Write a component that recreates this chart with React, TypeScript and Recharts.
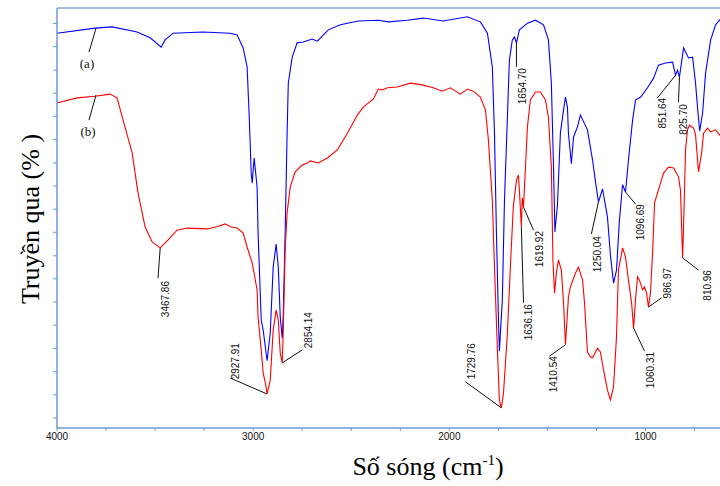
import {
  ComposedChart,
  Line,
  Scatter,
  XAxis,
  YAxis,
  ReferenceLine,
} from 'recharts';

// wavenumbers (cm-1) and transmittance
const waveA = [
  4000, 3806, 3719, 3592, 3525, 3469, 3449, 3408, 3255, 3117, 3082, 3051, 3031, 3020, 3010, 3005,
  2995, 2980, 2975, 2959, 2949, 2929, 2913, 2898, 2883, 2872, 2862, 2852, 2847, 2837, 2827, 2821,
  2801, 2776, 2745, 2699, 2673, 2617, 2556, 2464, 2362, 2311, 2214, 2133, 2031, 1908, 1842, 1806,
  1781, 1770, 1760, 1750, 1745, 1730, 1719, 1704, 1694, 1679, 1668, 1658, 1643, 1602, 1561, 1520,
  1495, 1480, 1469, 1462, 1449, 1434, 1418, 1408, 1398, 1393, 1378, 1367, 1347, 1332, 1296, 1270,
  1255, 1240, 1219, 1194, 1179, 1163, 1148, 1133, 1117, 1102, 1087, 1066, 1051, 1025, 990, 959,
  934, 898, 862, 847, 837, 827, 806, 781, 760, 745, 735, 724, 709, 694, 668, 643, 617, 600,
];
const transA = [
  94.0, 95.2, 95.5, 94.3, 92.9, 90.7, 92.4, 94.0, 94.3, 94.0, 93.6, 90.5, 86.0, 74.0, 60.7, 58.3,
  64.3, 57.4, 46.4, 25.7, 23.3, 16.0, 22.6, 38.3, 43.8, 38.3, 26.4, 21.4, 26.4, 46.4, 70.2, 82.1,
  88.3, 91.7, 91.9, 92.6, 92.1, 94.8, 96.0, 96.9, 97.1, 96.7, 97.1, 97.6, 96.9, 97.9, 96.7, 94.0,
  86.0, 70.2, 46.4, 26.4, 18.3, 30.5, 54.3, 74.0, 87.6, 92.4, 93.1, 91.7, 94.8, 96.4, 97.1, 96.0,
  92.4, 82.1, 62.1, 46.7, 53.1, 70.2, 75.7, 78.8, 76.4, 70.2, 62.9, 69.3, 71.7, 74.5, 71.0, 63.8,
  58.6, 53.8, 56.9, 50.2, 41.2, 34.5, 37.6, 49.5, 57.9, 56.2, 63.8, 73.3, 78.1, 78.8, 81.0, 83.3,
  86.4, 86.9, 87.1, 84.0, 85.2, 83.6, 90.5, 88.1, 88.3, 82.1, 76.4, 70.7, 75.0, 84.5, 92.4, 96.0, 97.4, 97.9,
];

const waveB = [
  4000, 3898, 3806, 3730, 3694, 3663, 3617, 3587, 3551, 3515, 3474, 3434, 3388, 3337, 3235, 3184,
  3143, 3117, 3082, 3051, 3031, 3005, 2980, 2975, 2959, 2949, 2934, 2929, 2913, 2898, 2883, 2872,
  2862, 2852, 2847, 2837, 2827, 2811, 2786, 2750, 2724, 2709, 2668, 2622, 2571, 2520, 2469, 2439,
  2388, 2362, 2342, 2316, 2265, 2199, 2138, 2082, 2036, 1995, 1944, 1908, 1878, 1842, 1816, 1801,
  1781, 1770, 1755, 1745, 1735, 1724, 1704, 1689, 1674, 1658, 1648, 1643, 1633, 1628, 1622, 1612,
  1602, 1587, 1561, 1536, 1510, 1495, 1480, 1472, 1464, 1454, 1444, 1429, 1418, 1408, 1393, 1383,
  1357, 1342, 1321, 1311, 1296, 1281, 1270, 1245, 1230, 1214, 1194, 1179, 1163, 1148, 1138, 1117,
  1102, 1087, 1071, 1061, 1051, 1041, 1031, 1015, 1005, 995, 985, 975, 964, 954, 934, 908,
  883, 857, 832, 822, 811, 806, 796, 786, 776, 755, 745, 730, 714, 704, 684, 668, 643, 617, 600,
];
const transB = [
  77.4, 78.6, 79.0, 79.5, 78.6, 73.3, 65.5, 56.0, 47.9, 44.3, 42.9, 44.8, 47.1, 47.6, 47.4, 47.9,
  48.6, 47.9, 47.6, 46.4, 43.1, 39.3, 32.9, 26.4, 18.6, 13.1, 9.8, 8.1, 11.4, 23.3, 28.1, 25.7,
  17.9, 15.5, 22.6, 42.4, 51.2, 57.4, 61.0, 62.6, 63.1, 63.6, 63.1, 64.3, 66.2, 70.2, 74.5, 76.4,
  78.3, 80.7, 80.5, 81.0, 81.2, 82.1, 81.7, 81.0, 80.2, 81.0, 79.5, 80.7, 80.2, 78.8, 75.7, 68.6,
  54.3, 38.3, 18.6, 6.7, 4.8, 8.3, 22.6, 38.3, 52.6, 59.0, 60.2, 56.7, 47.9, 54.8, 52.6, 62.1,
  71.7, 78.1, 80.0, 80.0, 78.1, 74.0, 62.1, 40.0, 32.1, 37.1, 40.0, 37.6, 29.8, 19.8, 31.2, 33.6,
  36.9, 38.3, 35.2, 29.8, 18.1, 16.9, 16.7, 19.0, 18.1, 13.8, 9.0, 6.7, 9.8, 21.7, 37.6, 42.9,
  40.7, 35.2, 29.8, 23.8, 30.5, 36.0, 35.2, 32.9, 33.6, 32.1, 28.8, 32.1, 41.7, 53.6, 56.7, 60.7,
  62.1, 61.9, 59.8, 56.7, 40.5, 48.3, 66.2, 71.0, 72.1, 71.4, 69.8, 61.0, 65.5, 70.2, 71.4, 70.5, 71.0, 69.5, 69.0,
];

const xTicks = [4000, 3750, 3500, 3250, 3000, 2750, 2500, 2250, 2000, 1750, 1500, 1250, 1000, 750];
const yTicks = [2.4, 7.9, 13.4, 18.9, 24.5, 30.0, 35.5, 41.0, 46.6, 52.1, 57.6, 63.1, 68.7, 74.2, 79.7, 85.2, 90.8, 96.3];

// peak labels: text, peak on the curve, end of leader, top end of rotated text
const peakLabels = ['3467.86', '2927.91', '2854.14', '1729.76', '1654.70', '1636.16', '1619.92', '1410.54', '1250.04', '1096.69', '1060.31', '986.97', '810.96', '851.64', '825.70'];
const peakAt: [number, number][] = [
  [3474, 42.9], [2929, 8.1], [2852, 15.5], [1735, 4.8], [1658, 91.7], [1633, 47.9], [1622, 52.6],
  [1408, 19.8], [1240, 53.8], [1102, 56.2], [1061, 23.8], [985, 28.8], [811, 40.5], [847, 84.0], [827, 83.6],
];
const leaderEnd: [number, number][] = [
  [3485, 35.7], [3117, 11.9], [2750, 18.6], [1918, 11.0], [1658, 86.0], [1622, 29.8], [1571, 47.1],
  [1490, 17.1], [1276, 46.2], [1051, 53.3], [1005, 18.3], [918, 31.0], [730, 37.6], [939, 78.6], [832, 77.6],
];
const textTop: [number, number][] = [
  [3449, 35.0], [3092, 20.2], [2719, 27.6], [1888, 20.2], [1628, 85.7], [1597, 29.5], [1541, 46.9],
  [1469, 17.1], [1245, 45.7], [1025, 53.3], [975, 18.1], [888, 38.1], [684, 37.6], [913, 78.6], [806, 77.1],
];

// curve names
const curveNames = ['(a)', '(b)'];
const curvePoint: [number, number][] = [[3801, 95.2], [3801, 79.3]];
const curveLeaderEnd: [number, number][] = [[3837, 89.5], [3837, 73.3]];
const curveNamePos: [number, number][] = [[3847, 86.9], [3842, 70.5]];

const dataA = waveA.map((wn, i) => ({ wn, T: transA[i] }));
const dataB = waveB.map((wn, i) => ({ wn, T: transB[i] }));
const labelData = peakLabels.map((label, i) => ({ wn: textTop[i][0], T: textTop[i][1], label }));
const nameData = curveNames.map((label, i) => ({ wn: curveNamePos[i][0], T: curveNamePos[i][1], label }));

const AXIS = '#6b9bd6';
const SANS = '"Liberation Sans", Arial, sans-serif';
const SERIF = '"Liberation Serif", "Times New Roman", serif';

const PeakText = (props: any) => {
  const { cx, cy, payload } = props;
  return (
    <text
      x={cx}
      y={cy}
      transform={`rotate(-90 ${cx} ${cy})`}
      textAnchor="end"
      dominantBaseline="central"
      fontSize={10}
      fontFamily={SANS}
      fill="#111"
    >
      {payload.label}
    </text>
  );
};

const NameText = (props: any) => {
  const { cx, cy, payload } = props;
  return (
    <text x={cx} y={cy} textAnchor="middle" dominantBaseline="central" fontSize={13} fontFamily={SERIF} fill="#111">
      {payload.label}
    </text>
  );
};

export default function App() {
  return (
    <div style={{ position: 'absolute', left: 0, top: 0, width: 720, height: 486, overflow: 'hidden', background: '#fff' }}>
      <ComposedChart width={724} height={486} margin={{ top: 8, right: 0, left: 0, bottom: 0 }}>
        <XAxis
          dataKey="wn"
          type="number"
          domain={[600, 4000]}
          reversed
          ticks={xTicks}
          interval={0}
          tickFormatter={(v: number) => (v % 1000 === 0 ? String(v) : '')}
          height={58}
          tickSize={3}
          tickMargin={2}
          axisLine={{ stroke: AXIS, strokeWidth: 1.5 }}
          tickLine={{ stroke: AXIS }}
          tick={{ fontSize: 10, fontFamily: SANS, fill: '#111' }}
        />
        <YAxis
          type="number"
          domain={[0, 100]}
          ticks={yTicks}
          interval={0}
          width={57}
          tickSize={4}
          tickFormatter={() => ''}
          axisLine={{ stroke: AXIS, strokeWidth: 1.5 }}
          tickLine={{ stroke: AXIS }}
        />
        <ReferenceLine y={100} stroke="#8aa3c8" strokeWidth={1.5} />
        <Line data={dataA} dataKey="T" stroke="#0000ff" strokeWidth={1.1} dot={false} isAnimationActive={false} />
        <Line data={dataB} dataKey="T" stroke="#ff0000" strokeWidth={1.1} dot={false} isAnimationActive={false} />
        {peakAt.map((p, i) => (
          <ReferenceLine
            key={peakLabels[i]}
            segment={[{ x: p[0], y: p[1] }, { x: leaderEnd[i][0], y: leaderEnd[i][1] }]}
            stroke="#111"
            strokeWidth={1}
          />
        ))}
        {curvePoint.map((p, i) => (
          <ReferenceLine
            key={curveNames[i]}
            segment={[{ x: p[0], y: p[1] }, { x: curveLeaderEnd[i][0], y: curveLeaderEnd[i][1] }]}
            stroke="#111"
            strokeWidth={1}
          />
        ))}
        <Scatter data={labelData} dataKey="T" shape={PeakText} isAnimationActive={false} />
        <Scatter data={nameData} dataKey="T" shape={NameText} isAnimationActive={false} />
      </ComposedChart>
      <svg width={720} height={486} style={{ position: 'absolute', left: 0, top: 0, pointerEvents: 'none' }}>
        <text x={428} y={475} textAnchor="middle" fontSize={26} fontFamily={SERIF} fill="#000">
          Số sóng (cm<tspan dy={-10} fontSize={15}>-1</tspan>
          <tspan dy={10}>)</tspan>
        </text>
        <text
          transform="translate(39 219) rotate(-90)"
          textAnchor="middle"
          fontSize={26}
          fontFamily={SERIF}
          fill="#000"
        >
          Truyền qua (% )
        </text>
      </svg>
    </div>
  );
}
